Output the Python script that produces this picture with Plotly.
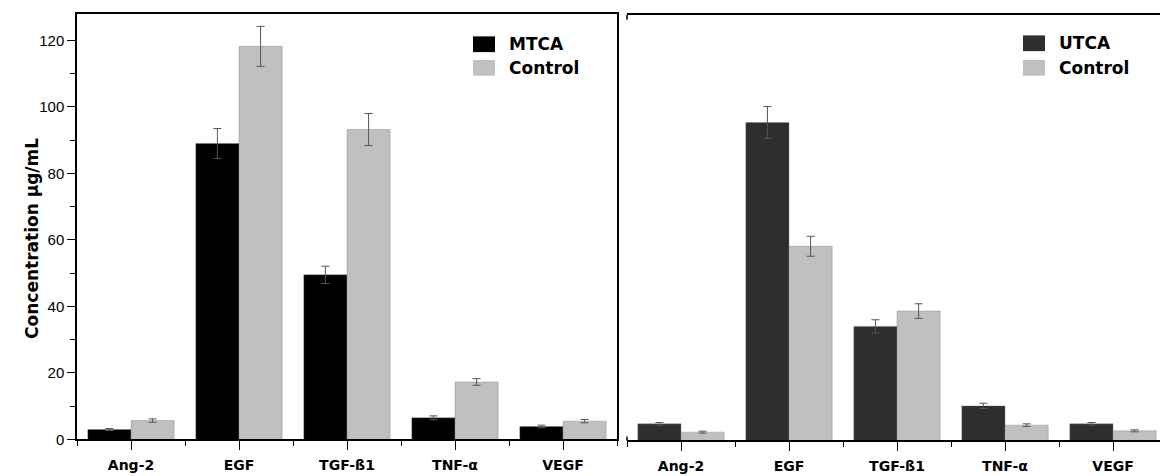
import plotly.graph_objects as go

categories = ["Ang-2", "EGF", "TGF-ß1", "TNF-α", "VEGF"]

mtca = [3.0, 89.0, 49.5, 6.5, 3.9]
mtca_err = [0.3, 4.5, 2.6, 0.6, 0.4]
control_left = [5.7, 118.2, 93.2, 17.3, 5.5]
control_left_err = [0.5, 6.0, 4.8, 1.0, 0.5]

utca = [5.0, 95.6, 34.3, 10.4, 5.0]
utca_err = [0.4, 4.8, 2.0, 0.8, 0.4]
control_right = [2.5, 58.4, 38.9, 4.6, 2.9]
control_right_err = [0.3, 3.0, 2.2, 0.4, 0.3]

y_title = "Concentration µg/mL"

C_MTCA = "#000000"
C_UTCA = "#2e2e2e"
C_CTRL = "#c0c0c0"
ERR_C = "#555555"

W, H = 1160, 476
def px_x(p):
    return p / W
def px_y(p):
    return 1 - p / H

xpos = list(range(len(categories)))

fig = go.Figure()

def add_bar(x, y, err, color, xa, ya, name):
    fig.add_trace(go.Bar(
        x=x, y=y, name=name, marker=dict(color=color, line=dict(color="rgba(120,120,120,0.6)", width=0.6)),
        error_y=dict(type="data", array=err, color=ERR_C, thickness=1, width=4),
        xaxis=xa, yaxis=ya, showlegend=False, offsetgroup=name,
    ))

add_bar(xpos, mtca, mtca_err, C_MTCA, "x", "y", "MTCA")
add_bar(xpos, control_left, control_left_err, C_CTRL, "x", "y", "Control L")
add_bar(xpos, utca, utca_err, C_UTCA, "x2", "y2", "UTCA")
add_bar(xpos, control_right, control_right_err, C_CTRL, "x2", "y2", "Control R")

xl0, xl1 = px_x(77), px_x(617)
xr0, xr1 = px_x(627), 1.0
yl0, yl1 = px_y(447), px_y(14)
yr0, yr1 = px_y(448), px_y(15)

tickfont_x = dict(family="DejaVu Sans", size=14, color="#000000", weight="bold")
common_x = dict(
    tickmode="array", tickvals=xpos, ticktext=categories,
    ticks="outside", ticklen=9, tickwidth=1.2, tickcolor="#000",
    showline=True, linecolor="#000", linewidth=1.5, mirror=True,
    showgrid=False, zeroline=False, tickfont=tickfont_x, ticklabelstandoff=3,
    minor=dict(tick0=0.5, dtick=1, ticks="outside", ticklen=5, tickwidth=1.2, tickcolor="#000"),
)
top_x = dict(
    tickmode="array", tickvals=xpos, ticks="inside", ticklen=9, tickwidth=1.2, tickcolor="#000",
    showticklabels=False, showgrid=False, zeroline=False, side="top",
    minor=dict(tick0=0.5, dtick=1, ticks="inside", ticklen=5, tickwidth=1.2, tickcolor="#000"),
)

fig.update_layout(
    width=W, height=H,
    margin=dict(l=0, r=0, t=0, b=0),
    paper_bgcolor="white", plot_bgcolor="white",
    barmode="group", bargap=0.2, bargroupgap=0,
    xaxis=dict(domain=[xl0, xl1], range=[-0.5, 4.5], anchor="y", **common_x),
    xaxis3=dict(domain=[xl0, xl1], range=[-0.5, 4.5], anchor="y", overlaying="x", **top_x),
    xaxis2=dict(domain=[xr0, xr1], range=[-0.5, 4.435], anchor="y2", **common_x),
    xaxis4=dict(domain=[xr0, xr1], range=[-0.5, 4.435], anchor="y2", overlaying="x2", **top_x),
    yaxis=dict(
        domain=[yl0, yl1], range=[0, 128], anchor="x",
        tickmode="array", tickvals=[0, 20, 40, 60, 80, 100, 120],
        ticks="outside", ticklen=8, tickwidth=1.2, tickcolor="#000",
        showline=True, linecolor="#000", linewidth=1.5, mirror=True,
        showgrid=False, zeroline=False,
        tickfont=dict(family="Liberation Sans", size=15, color="#000"),
        minor=dict(tickvals=[10, 30, 50, 70, 90, 110], ticks="outside", ticklen=5, tickwidth=1.2, tickcolor="#000"),
    ),
    yaxis2=dict(
        domain=[yr0, yr1], range=[0, 128], anchor="x2",
        showline=False, showticklabels=False, ticks="", showgrid=False, zeroline=False,
    ),
)

# stubs at the right panel's left corners
fig.add_shape(type="line", xref="x2 domain", yref="y2 domain", x0=0, x1=0, y0=1, y1=1 - 5 / 433,
              line=dict(color="#000", width=1.5))
fig.add_shape(type="line", xref="x2 domain", yref="y2 domain", x0=0, x1=0, y0=0, y1=4 / 433,
              line=dict(color="#000", width=1.5))

# y title
fig.add_annotation(text=y_title, xref="paper", yref="paper", x=px_x(20), y=px_y(243),
                   textangle=-90, showarrow=False,
                   font=dict(family="DejaVu Sans", size=17, color="#000", weight="bold"))

# manual legends
def legend(items, x_sq, y_rows):
    for (label, color), yc in zip(items, y_rows):
        fig.add_shape(type="rect", xref="paper", yref="paper",
                      x0=px_x(x_sq), x1=px_x(x_sq + 22), y0=px_y(yc - 8), y1=px_y(yc + 8),
                      fillcolor=color, line=dict(color="rgba(0,0,0,0)", width=0))
        fig.add_annotation(text=label, xref="paper", yref="paper", x=px_x(x_sq + 34), y=px_y(yc),
                           xanchor="left", yanchor="middle", showarrow=False,
                           font=dict(family="DejaVu Sans", size=17, color="#000", weight="bold"))

legend([("MTCA", C_MTCA), ("Control", C_CTRL)], 473, [45, 69])
legend([("UTCA", C_UTCA), ("Control", C_CTRL)], 1023, [44, 69])

fig.write_html("out.html")
